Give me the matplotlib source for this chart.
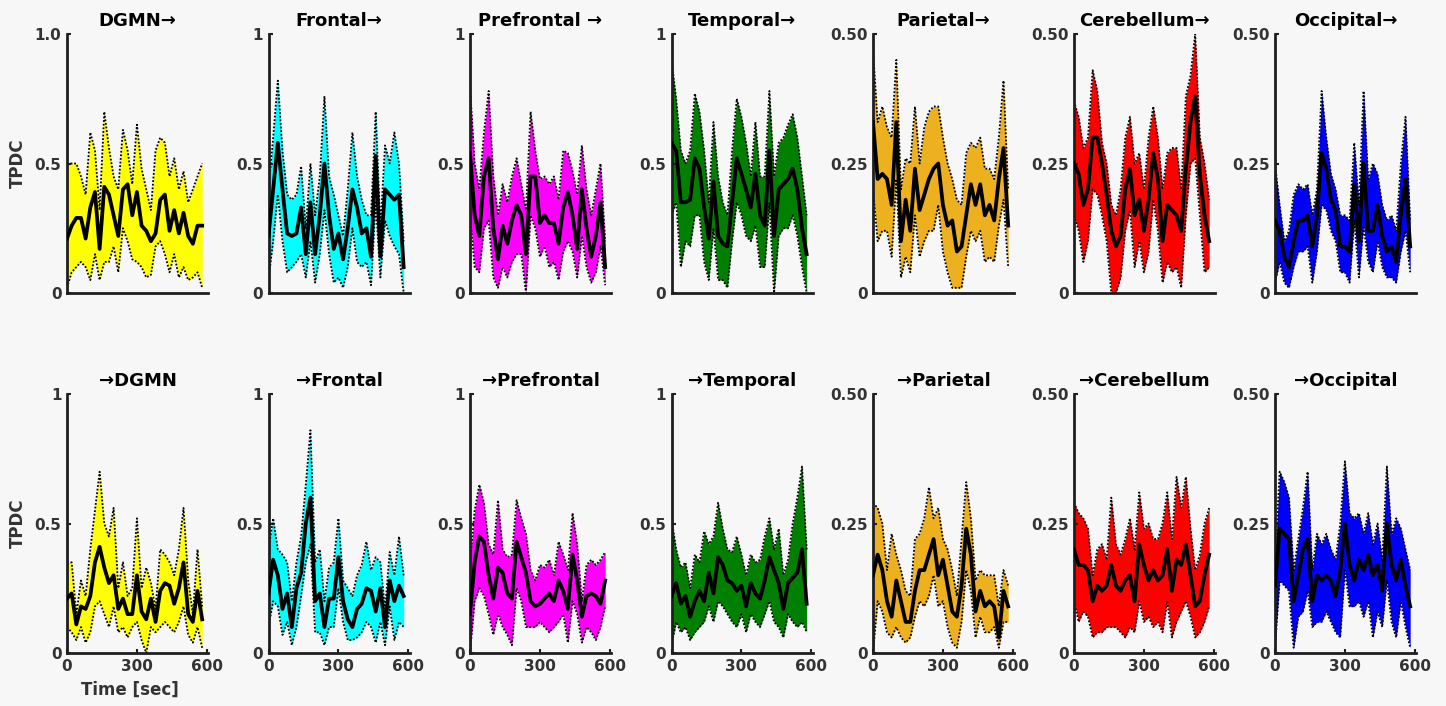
import matplotlib
matplotlib.use("Agg")
import matplotlib.pyplot as plt
import numpy as np

plt.rcParams['font.family'] = ['DejaVu Sans']
plt.rcParams['font.weight'] = 'bold'

# time axis (sec)
time_sec = list(range(0, 600, 20))

region_names = ["DGMN", "Frontal", "Prefrontal", "Temporal", "Parietal", "Cerebellum", "Occipital"]
top_titles = ["DGMN\u2192", "Frontal\u2192", "Prefrontal \u2192", "Temporal\u2192", "Parietal\u2192", "Cerebellum\u2192", "Occipital\u2192"]
bottom_titles = ["\u2192DGMN", "\u2192Frontal", "\u2192Prefrontal", "\u2192Temporal", "\u2192Parietal", "\u2192Cerebellum", "\u2192Occipital"]
fill_colors = ["#ffff00", "#00ffff", "#ff00ff", "#007f00", "#edb120", "#ff0000", "#0000ff"]
y_max = [1.0, 1.0, 1.0, 1.0, 0.5, 0.5, 0.5]
y_ticks_big = [0, 0.5, 1]
y_ticklabels_big = ["0", "0.5", "1"]
y_ticklabels_dgmn_top = ["0", "0.5", "1.0"]
y_ticks_small = [0, 0.25, 0.5]
y_ticklabels_small = ["0", "0.25", "0.50"]
x_ticks = [0, 300, 600]
x_ticklabels = ["0", "300", "600"]

# ---------------- Top row (outflow: region ->) ----------------
out_dgmn_mean = [.21,.26,.29,.29,.21,.33,.39,.17,.41,.38,.30,.22,.40,.42,.30,.39,.26,.24,.20,.23,.36,.38,.24,.32,.23,.31,.22,.19,.26,.26]
out_dgmn_hi   = [.50,.50,.50,.45,.38,.62,.55,.32,.70,.56,.45,.40,.63,.55,.42,.65,.48,.40,.32,.55,.60,.58,.45,.52,.40,.47,.35,.40,.45,.50]
out_dgmn_lo   = [.02,.08,.10,.12,.10,.05,.15,.05,.12,.12,.18,.08,.25,.20,.13,.12,.10,.06,.07,.18,.20,.15,.08,.15,.06,.10,.05,.06,.08,.02]

out_frontal_mean = [.22,.40,.58,.40,.23,.22,.23,.33,.15,.35,.15,.30,.50,.30,.17,.23,.13,.25,.40,.33,.23,.25,.14,.53,.14,.40,.38,.36,.38,.10]
out_frontal_hi   = [.40,.60,.82,.55,.38,.36,.38,.49,.25,.50,.30,.45,.76,.45,.38,.30,.22,.40,.62,.45,.36,.30,.30,.70,.25,.57,.50,.62,.50,.20]
out_frontal_lo   = [.05,.20,.38,.20,.08,.10,.12,.15,.06,.20,.04,.15,.32,.15,.04,.06,.02,.10,.25,.12,.10,.12,.03,.35,.06,.28,.22,.18,.15,.00]

out_prefrontal_mean = [.54,.30,.22,.45,.52,.25,.13,.26,.19,.28,.34,.30,.15,.45,.45,.27,.30,.27,.27,.19,.33,.39,.30,.17,.40,.25,.14,.22,.35,.10]
out_prefrontal_hi   = [.80,.50,.40,.62,.78,.45,.30,.42,.35,.45,.52,.42,.32,.70,.55,.44,.45,.42,.45,.36,.55,.54,.47,.38,.57,.40,.30,.40,.50,.20]
out_prefrontal_lo   = [.30,.10,.08,.25,.28,.06,.02,.10,.06,.12,.15,.15,.00,.30,.25,.14,.18,.10,.12,.05,.16,.20,.16,.06,.22,.10,.04,.08,.18,.03]

out_temporal_mean = [.58,.55,.35,.35,.36,.52,.48,.33,.21,.43,.22,.19,.18,.35,.52,.46,.40,.33,.46,.30,.26,.55,.22,.40,.42,.44,.48,.40,.25,.15]
out_temporal_hi   = [.90,.75,.55,.50,.55,.77,.70,.55,.35,.66,.45,.35,.30,.55,.75,.68,.58,.45,.66,.45,.45,.78,.45,.58,.60,.65,.69,.60,.45,.30]
out_temporal_lo   = [.30,.35,.10,.20,.18,.30,.30,.12,.05,.25,.05,.05,.02,.20,.35,.30,.22,.20,.26,.10,.10,.35,.00,.22,.25,.25,.30,.22,.10,.00]

out_parietal_mean = [.33,.22,.23,.22,.17,.33,.10,.18,.12,.24,.16,.19,.22,.24,.25,.17,.13,.14,.08,.09,.15,.21,.17,.21,.15,.17,.14,.22,.28,.13]
out_parietal_hi   = [.47,.33,.36,.32,.30,.45,.20,.26,.25,.36,.25,.32,.35,.36,.36,.30,.25,.22,.18,.17,.27,.29,.28,.30,.24,.24,.22,.30,.41,.20]
out_parietal_lo   = [.20,.10,.12,.12,.07,.22,.03,.07,.04,.15,.07,.10,.12,.12,.17,.08,.04,.01,.01,.01,.07,.12,.10,.12,.06,.07,.06,.13,.18,.05]

out_cerebellum_mean = [.25,.23,.17,.20,.30,.30,.25,.19,.12,.09,.11,.20,.24,.15,.18,.12,.18,.27,.22,.10,.17,.16,.15,.12,.24,.33,.38,.23,.15,.10]
out_cerebellum_hi   = [.37,.34,.28,.30,.43,.39,.29,.25,.17,.15,.20,.30,.34,.25,.27,.20,.30,.36,.30,.20,.27,.28,.28,.20,.38,.42,.50,.30,.25,.18]
out_cerebellum_lo   = [.15,.12,.06,.10,.20,.19,.15,.10,.00,.00,.03,.12,.16,.05,.10,.04,.08,.18,.12,.02,.06,.04,.05,.01,.15,.25,.26,.15,.04,.05]

out_occipital_mean = [.14,.12,.07,.05,.10,.14,.14,.15,.09,.15,.27,.24,.18,.16,.09,.09,.08,.21,.10,.25,.12,.12,.17,.11,.08,.09,.06,.15,.22,.09]
out_occipital_hi   = [.25,.17,.10,.12,.19,.21,.20,.21,.15,.20,.39,.30,.23,.20,.15,.15,.14,.29,.17,.39,.22,.25,.23,.17,.14,.15,.12,.25,.34,.14]
out_occipital_lo   = [.02,.06,.02,.01,.05,.08,.08,.09,.02,.08,.17,.16,.12,.10,.04,.04,.02,.14,.03,.13,.06,.04,.10,.05,.03,.03,.02,.08,.12,.04]

# ---------------- Bottom row (inflow: -> region) ----------------
in_dgmn_mean = [.21,.23,.11,.18,.17,.22,.35,.41,.33,.27,.30,.17,.21,.15,.15,.30,.16,.13,.21,.12,.24,.27,.26,.19,.25,.35,.15,.12,.24,.13]
in_dgmn_hi   = [.35,.35,.15,.28,.22,.40,.55,.70,.50,.45,.56,.25,.35,.22,.25,.52,.25,.33,.27,.17,.40,.38,.35,.30,.40,.56,.28,.15,.40,.18]
in_dgmn_lo   = [.10,.08,.05,.10,.04,.08,.18,.20,.15,.10,.18,.08,.10,.06,.10,.12,.05,.00,.10,.08,.10,.12,.10,.08,.12,.18,.07,.04,.10,.02]

in_frontal_mean = [.23,.36,.30,.17,.23,.10,.25,.31,.50,.60,.20,.23,.10,.21,.21,.37,.20,.13,.10,.17,.19,.25,.24,.16,.25,.10,.28,.20,.26,.22]
in_frontal_hi   = [.40,.52,.40,.38,.35,.20,.35,.45,.65,.86,.35,.40,.20,.33,.35,.52,.28,.25,.22,.30,.34,.43,.32,.37,.35,.17,.39,.30,.45,.30]
in_frontal_lo   = [.10,.20,.18,.07,.12,.03,.10,.22,.35,.42,.08,.08,.03,.10,.10,.25,.12,.05,.05,.06,.08,.12,.10,.04,.12,.03,.18,.05,.12,.10]

in_prefrontal_mean = [.15,.35,.45,.43,.30,.21,.33,.31,.23,.21,.43,.37,.31,.20,.18,.19,.21,.23,.20,.28,.24,.17,.38,.28,.14,.22,.23,.22,.19,.28]
in_prefrontal_hi   = [.35,.55,.65,.58,.42,.38,.59,.40,.37,.38,.59,.52,.46,.32,.28,.34,.33,.36,.30,.43,.38,.32,.54,.42,.20,.34,.36,.34,.36,.39]
in_prefrontal_lo   = [.00,.20,.25,.22,.15,.07,.15,.10,.07,.03,.25,.20,.10,.10,.10,.12,.10,.08,.10,.12,.15,.04,.20,.15,.04,.10,.08,.05,.10,.18]

in_temporal_mean = [.22,.27,.19,.22,.14,.20,.24,.20,.31,.23,.37,.34,.28,.27,.24,.26,.18,.27,.23,.21,.28,.37,.32,.27,.17,.27,.29,.31,.40,.19]
in_temporal_hi   = [.52,.40,.33,.35,.25,.38,.35,.47,.42,.45,.58,.48,.40,.39,.45,.38,.30,.38,.35,.36,.45,.52,.40,.48,.30,.36,.50,.60,.72,.40]
in_temporal_lo   = [.03,.12,.08,.10,.05,.08,.10,.12,.18,.12,.20,.18,.15,.12,.10,.15,.08,.15,.12,.10,.15,.20,.12,.10,.06,.15,.12,.10,.12,.08]

in_parietal_mean = [.15,.19,.16,.10,.07,.14,.10,.06,.06,.12,.16,.16,.19,.22,.15,.18,.13,.08,.07,.13,.24,.19,.08,.12,.09,.10,.09,.03,.12,.09]
in_parietal_hi   = [.29,.28,.25,.16,.23,.19,.16,.12,.11,.22,.23,.26,.32,.26,.28,.22,.20,.16,.11,.22,.33,.26,.14,.16,.15,.15,.15,.09,.16,.13]
in_parietal_lo   = [.00,.10,.08,.04,.03,.05,.03,.02,.03,.07,.10,.09,.11,.15,.09,.10,.05,.02,.01,.06,.16,.12,.03,.07,.04,.04,.05,.01,.06,.06]

in_cerebellum_mean = [.20,.17,.17,.16,.10,.13,.12,.13,.17,.13,.12,.14,.15,.10,.21,.17,.14,.16,.14,.15,.20,.12,.18,.17,.21,.15,.09,.10,.15,.19]
in_cerebellum_hi   = [.29,.27,.26,.24,.15,.20,.21,.18,.30,.21,.19,.22,.26,.20,.31,.24,.25,.22,.22,.25,.31,.22,.34,.28,.34,.24,.16,.19,.25,.28]
in_cerebellum_lo   = [.10,.06,.08,.07,.03,.04,.04,.05,.05,.05,.04,.03,.05,.04,.10,.06,.07,.05,.06,.04,.10,.03,.06,.08,.10,.07,.03,.04,.06,.09]

in_occipital_mean = [.13,.24,.23,.22,.10,.15,.20,.22,.10,.15,.14,.15,.14,.11,.16,.25,.17,.14,.18,.16,.19,.15,.17,.12,.25,.17,.14,.18,.13,.09]
in_occipital_hi   = [.18,.35,.33,.30,.16,.22,.28,.35,.16,.23,.21,.23,.20,.18,.25,.37,.27,.26,.27,.23,.27,.21,.25,.18,.36,.23,.26,.24,.20,.16]
in_occipital_lo   = [.01,.14,.13,.12,.01,.07,.08,.12,.05,.06,.06,.08,.06,.04,.03,.16,.09,.09,.10,.07,.10,.03,.08,.05,.14,.06,.03,.10,.05,.01]

top_series = [
    (out_dgmn_mean, out_dgmn_lo, out_dgmn_hi),
    (out_frontal_mean, out_frontal_lo, out_frontal_hi),
    (out_prefrontal_mean, out_prefrontal_lo, out_prefrontal_hi),
    (out_temporal_mean, out_temporal_lo, out_temporal_hi),
    (out_parietal_mean, out_parietal_lo, out_parietal_hi),
    (out_cerebellum_mean, out_cerebellum_lo, out_cerebellum_hi),
    (out_occipital_mean, out_occipital_lo, out_occipital_hi),
]
bottom_series = [
    (in_dgmn_mean, in_dgmn_lo, in_dgmn_hi),
    (in_frontal_mean, in_frontal_lo, in_frontal_hi),
    (in_prefrontal_mean, in_prefrontal_lo, in_prefrontal_hi),
    (in_temporal_mean, in_temporal_lo, in_temporal_hi),
    (in_parietal_mean, in_parietal_lo, in_parietal_hi),
    (in_cerebellum_mean, in_cerebellum_lo, in_cerebellum_hi),
    (in_occipital_mean, in_occipital_lo, in_occipital_hi),
]

BG = "#f7f7f7"
W, H = 1446, 706
fig = plt.figure(figsize=(W / 100, H / 100), dpi=100, facecolor=BG)

lefts_px = [67, 268.5, 470, 671.5, 873, 1074, 1275]
ax_w_px = 141
rows_px = [(34, 293), (394, 653)]  # (top, bottom) in pixels from top

axis_col = "#1f1f1f"
tick_col = "#333333"

for r, (series, titles) in enumerate([(top_series, top_titles), (bottom_series, bottom_titles)]):
    top_px, bot_px = rows_px[r]
    for c in range(7):
        ax = fig.add_axes([lefts_px[c] / W, (H - bot_px) / H, ax_w_px / W, (bot_px - top_px) / H])
        ax.set_facecolor(BG)
        m, lo, hi = series[c]
        t = np.array(time_sec)
        ax.fill_between(t, lo, hi, color=fill_colors[c], linewidth=0, zorder=1)
        ax.plot(t, hi, color="black", linestyle=(0, (1, 1)), linewidth=1.3, zorder=2)
        ax.plot(t, lo, color="black", linestyle=(0, (1, 1)), linewidth=1.3, zorder=2)
        ax.plot(t, m, color="black", linewidth=2.7, zorder=3)
        ax.set_xlim(0, 605)
        ax.set_ylim(0, y_max[c])
        for s in ["top", "right"]:
            ax.spines[s].set_visible(False)
        for s in ["left", "bottom"]:
            ax.spines[s].set_linewidth(2.0)
            ax.spines[s].set_color(axis_col)
        if y_max[c] == 1.0:
            ax.set_yticks(y_ticks_big)
            if r == 0 and c == 0:
                ax.set_yticklabels(y_ticklabels_dgmn_top)
            else:
                ax.set_yticklabels(y_ticklabels_big)
        else:
            ax.set_yticks(y_ticks_small)
            ax.set_yticklabels(y_ticklabels_small)
        if r == 1:
            ax.set_xticks(x_ticks)
            ax.set_xticklabels(x_ticklabels)
        else:
            ax.set_xticks([])
        ax.tick_params(direction="in", length=3, width=1.5, color=axis_col,
                       labelsize=11, labelcolor=tick_col, pad=4)
        for lab in ax.get_xticklabels() + ax.get_yticklabels():
            lab.set_fontweight("bold")
        ax.set_title(titles[c], fontsize=13, fontweight="bold", color="black", pad=6)

# y labels
for r in range(2):
    top_px, bot_px = rows_px[r]
    yc = (top_px + bot_px) / 2
    fig.text(18 / W, (H - yc) / H, "TPDC", rotation=90, ha="center", va="center",
             fontsize=12, fontweight="bold", color=tick_col)

fig.text(130 / W, (H - 690) / H, "Time [sec]", ha="center", va="center",
         fontsize=12, fontweight="bold", color=tick_col)

fig.savefig("out.png", dpi=100, facecolor=BG)
